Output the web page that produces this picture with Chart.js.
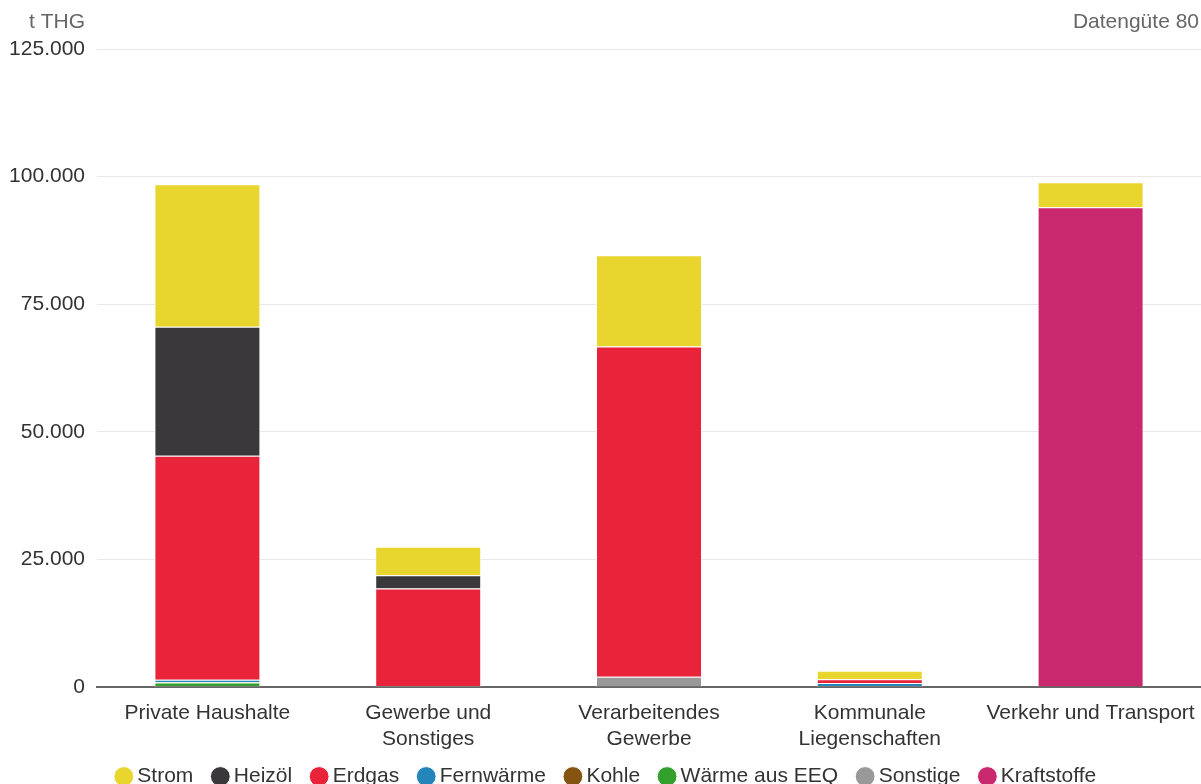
<!DOCTYPE html>
<html>
<head>
<meta charset="utf-8">
<script src="https://cdn.jsdelivr.net/npm/chart.js@4.4.1/dist/chart.umd.min.js"></script>
<style>
  html, body { margin: 0; padding: 0; background: #fff; overflow: hidden; }
  #wrap { width: 1201px; height: 797px; }
</style>
</head>
<body>
<div id="wrap"><canvas id="thgChart"></canvas></div>
<script>
// Sektoren (x-Achse)
const sectors = [
  ['Private Haushalte'],
  ['Gewerbe und', 'Sonstiges'],
  ['Verarbeitendes', 'Gewerbe'],
  ['Kommunale', 'Liegenschaften'],
  ['Verkehr und Transport']
];

// t THG je Energieträger, in Reihenfolge der Sektoren
const strom       = [27900, 5600, 17900, 1700, 4900];
const heizoel     = [25300, 2600, 0, 0, 0];
const erdgas      = [43900, 19100, 64700, 700, 0];
const fernwaerme  = [400, 0, 0, 600, 0];
const kohle       = [100, 0, 0, 0, 0];
const waermeEEQ   = [700, 0, 0, 0, 0];
const sonstige    = [200, 200, 2000, 200, 0];
const kraftstoffe = [0, 0, 0, 0, 94000];

const yTicks = [0, 25000, 50000, 75000, 100000, 125000];

const fmt = v => String(v).replace(/\B(?=(\d{3})+(?!\d))/g, '.');

// stacked bottom -> top, legend gets reversed
const series = [
  { label: 'Kraftstoffe',    data: kraftstoffe, color: '#c9286e' },
  { label: 'Sonstige',       data: sonstige,    color: '#999999' },
  { label: 'Wärme aus EEQ',  data: waermeEEQ,   color: '#33a02c' },
  { label: 'Kohle',          data: kohle,       color: '#845411' },
  { label: 'Fernwärme',      data: fernwaerme,  color: '#2385b9' },
  { label: 'Erdgas',         data: erdgas,      color: '#e8233a' },
  { label: 'Heizöl',         data: heizoel,     color: '#3a383b' },
  { label: 'Strom',          data: strom,       color: '#e8d52e' }
];

const headerText = {
  id: 'headerText',
  afterLayout(chart) {
    // legend sits a little right of centre in the original
    if (chart.legend) { chart.legend.left += 8; chart.legend.right += 8; }
  },
  afterDraw(chart) {
    const ctx = chart.ctx;
    ctx.save();
    ctx.font = '21px "Liberation Sans", Arial, sans-serif';
    ctx.fillStyle = '#666666';
    ctx.textBaseline = 'middle';
    ctx.textAlign = 'right';
    ctx.fillText('t THG', 85, 22);
    ctx.fillText('Datengüte 80', 1199, 22);
    ctx.restore();
  }
};

Chart.defaults.font.family = '"Liberation Sans", Arial, sans-serif';
Chart.defaults.color = '#333333';

new Chart(document.getElementById('thgChart'), {
  type: 'bar',
  data: {
    labels: sectors,
    datasets: series.map(s => ({
      label: s.label,
      data: s.data,
      backgroundColor: s.color,
      borderColor: '#ffffff',
      borderWidth: 1,
      barPercentage: 0.48,
      categoryPercentage: 1
    }))
  },
  options: {
    responsive: true,
    maintainAspectRatio: false,
    animation: false,
    layout: { padding: { top: 49, right: 0, left: 0, bottom: 0 } },
    plugins: {
      tooltip: { enabled: false },
      legend: {
        position: 'bottom',
        reverse: true,
        labels: {
          usePointStyle: true,
          pointStyle: 'circle',
          boxWidth: 6,
          boxHeight: 14,
          padding: 24,
          color: '#333333',
          font: { size: 21 }
        }
      }
    },
    scales: {
      x: {
        stacked: true,
        afterFit: axis => {
          axis.height = 55;
          axis.paddingRight = 0;
          axis._computeLabelArea = () => null; // don't clip the 2-line labels
        },
        grid: { display: false, drawTicks: false },
        border: { color: '#666666', width: 2 },
        ticks: { font: { size: 21 }, color: '#333333', padding: 14, maxRotation: 0, autoSkip: false }
      },
      y: {
        stacked: true,
        min: 0,
        max: 125000,
        afterBuildTicks: axis => { axis.ticks = yTicks.map(v => ({ value: v })); },
        afterFit: axis => { axis.width = 97; },
        grid: { color: '#e8e8e8', drawTicks: false },
        border: { display: false },
        ticks: { font: { size: 21 }, color: '#333333', padding: 12, callback: v => fmt(v) }
      }
    }
  },
  plugins: [headerText]
});
</script>
</body>
</html>
